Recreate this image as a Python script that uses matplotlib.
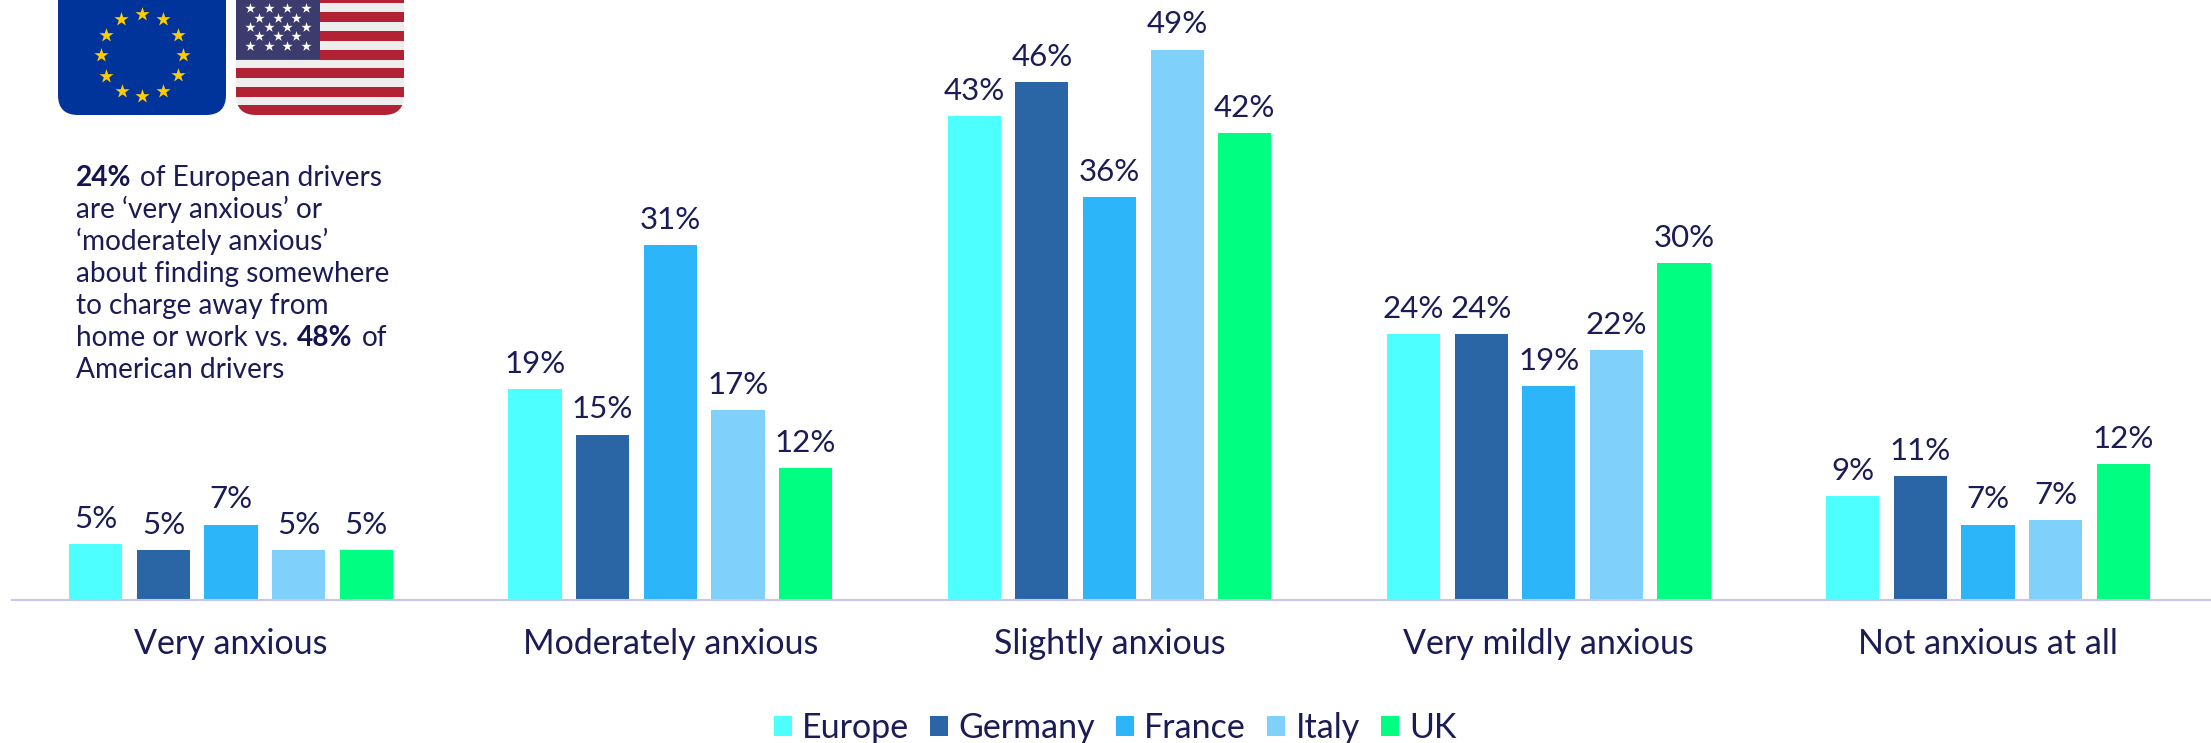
import numpy as np
import matplotlib
matplotlib.use("Agg")
import matplotlib.pyplot as plt
from matplotlib.patches import FancyBboxPatch, Rectangle

categories = ["Very anxious", "Moderately anxious", "Slightly anxious", "Very mildly anxious", "Not anxious at all"]
series = ["Europe", "Germany", "France", "Italy", "UK"]
europe = [4.95, 18.7, 43.0, 23.6, 9.2]
germany = [4.45, 14.7, 46.0, 23.6, 11.0]
france = [6.7, 31.5, 35.8, 19.0, 6.7]
italy = [4.45, 16.9, 48.9, 22.2, 7.1]
uk = [4.45, 11.7, 41.5, 29.9, 12.1]
values = [europe, germany, france, italy, uk]
labels_europe = ["5%", "19%", "43%", "24%", "9%"]
labels_germany = ["5%", "15%", "46%", "24%", "11%"]
labels_france = ["7%", "31%", "36%", "19%", "7%"]
labels_italy = ["5%", "17%", "49%", "22%", "7%"]
labels_uk = ["5%", "12%", "42%", "30%", "12%"]
bar_labels = [labels_europe, labels_germany, labels_france, labels_italy, labels_uk]
colors = ["#4DFFFF", "#2A65A5", "#2DB5FA", "#7FD1FB", "#00FF80"]

note_lines = [
    [("24%", True), ("of European drivers", False)],
    [("are \u2018very anxious\u2019 or", False)],
    [("\u2018moderately anxious\u2019", False)],
    [("about finding somewhere", False)],
    [("to charge away from", False)],
    [("home or work vs.", False), ("48%", True), ("of", False)],
    [("American drivers", False)],
]

ink = "#1B1B55"
plt.rcParams["font.family"] = ["Lato", "DejaVu Sans"]

W, H = 2211, 743
fig = plt.figure(figsize=(W / 100, H / 100), dpi=100)

# axes run from the baseline up to the top edge
ax = fig.add_axes([12 / W, (H - 600) / H, 2199 / W, 600 / H])
x = np.arange(len(categories))
step = 0.154
width = 0.121
for i in range(len(series)):
    bars = ax.bar(x + (i - 2) * step, values[i], width, color=colors[i], label=series[i])
    ax.bar_label(bars, labels=bar_labels[i], padding=8, fontsize=22.5, color=ink)

ax.set_xlim(-0.4987, 4.5077)
ax.set_ylim(0, 53.3)
ax.set_yticks([])
ax.set_xticks(x)
ax.set_xticklabels(categories, fontsize=24.5, color=ink)
ax.tick_params(axis="x", length=0, pad=20)
for s in ["top", "left", "right"]:
    ax.spines[s].set_visible(False)
ax.spines["bottom"].set_color("#C8C4EC")
ax.spines["bottom"].set_linewidth(1.5)
ax.patch.set_alpha(0)

leg = fig.legend(loc="center", bbox_to_anchor=(1115 / W, (H - 728) / H), ncol=5, frameon=False,
                 fontsize=24.5, handlelength=0.53, handleheight=0.53, handletextpad=0.3,
                 columnspacing=0.62, labelcolor=ink, borderpad=0)

# overlay in pixel coordinates for flags and the note
ov = fig.add_axes([0, 0, 1, 1])
ov.set_xlim(0, W)
ov.set_ylim(H, 0)
ov.axis("off")

eu = FancyBboxPatch((58 + 20, -30), 128, 125, boxstyle="round,pad=20,rounding_size=20",
                    fc="#00349A", ec="none")
ov.add_patch(eu)
ang = np.arange(12) * np.pi / 6
ov.scatter(142 + 41 * np.sin(ang), 55 - 41 * np.cos(ang), marker="*", s=115, color="#FFCC00", linewidths=0)

us = FancyBboxPatch((236 + 20, -30), 128, 125, boxstyle="round,pad=20,rounding_size=20",
                    fc="#EEEEEE", ec="none")
ov.add_patch(us)
for yc in [-2, 17, 36, 55, 73, 92, 110]:
    r = Rectangle((236, yc - 4.7), 168, 9.4, fc="#B22234", ec="none")
    ov.add_patch(r)
    r.set_clip_path(us)
ov.add_patch(Rectangle((236, 0), 84, 59, fc="#3C3B6E", ec="none"))
for row, yc in enumerate([8, 18, 27, 36, 46]):
    xs = [250, 269, 287, 306] if row % 2 == 0 else [259, 278, 296]
    ov.scatter(xs, [yc] * len(xs), marker="*", s=60, color="white", linewidths=0)

fig.canvas.draw()
rend = fig.canvas.get_renderer()
for n, line in enumerate(note_lines):
    px = 76
    py = 186 + n * 32
    for txt, bold in line:
        t = ov.text(px, py, txt, fontsize=20.2, color="#14144F" if bold else ink, va="baseline", ha="left",
                    fontweight="bold" if bold else "normal")
        px += t.get_window_extent(rend).width + 9

fig.savefig("out.png", dpi=100)
